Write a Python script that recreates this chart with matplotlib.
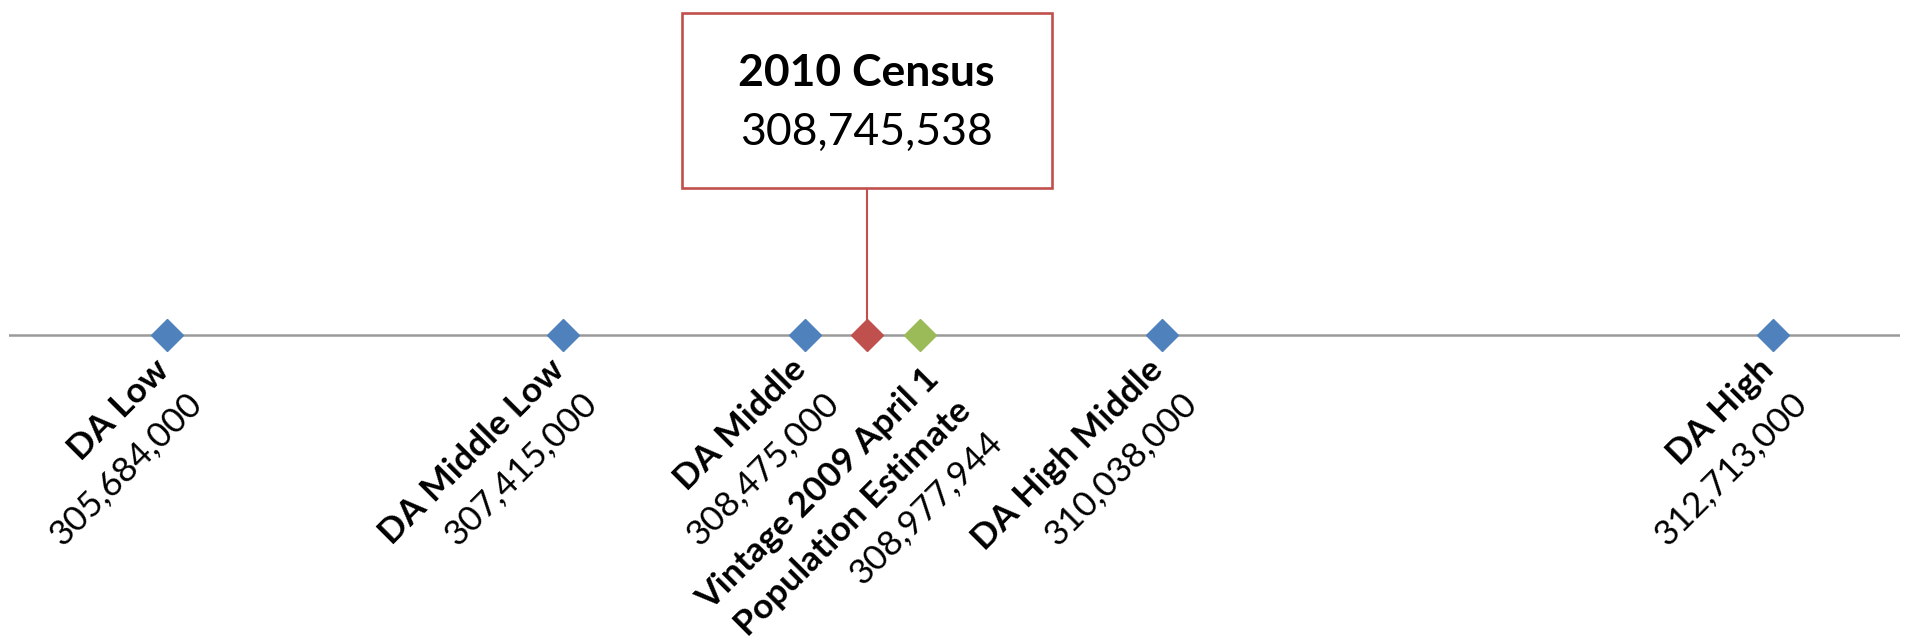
import numpy as np
import matplotlib.pyplot as plt
import matplotlib.transforms as mtransforms
from matplotlib.patches import Rectangle

plt.rcParams['font.family'] = ['Lato', 'DejaVu Sans']

# --- data ---
da_names = ['DA Low', 'DA Middle Low', 'DA Middle', 'DA High Middle', 'DA High']
da_values = [305684000, 307415000, 308475000, 310038000, 312713000]
estimate_name = ['Vintage 2009 April 1', 'Population Estimate']
estimate_value = 308977944
census_name = '2010 Census'
census_value = 308745538

BLUE, RED, GREEN = '#4F81BD', '#C0504D', '#9BBB59'
AXIS_GREY = '#9A9A9A'

fig = plt.figure(figsize=(19.10, 6.41), dpi=100)
ax = fig.add_axes([9 / 1910, 0, 1891 / 1910, 1])
ax.set_xlim(304.99e6, 313.27e6)
ax.set_ylim(-0.478, 0.522)
ax.axis('off')

# timeline
ax.axhline(0, color=AXIS_GREY, lw=1.8, zorder=1)

ax.plot(da_values, np.zeros(len(da_values)), 'D', ms=16, color=BLUE, ls='none', zorder=3)
ax.plot([census_value], [0], 'D', ms=16, color=RED, ls='none', zorder=3)
ax.plot([estimate_value], [0], 'D', ms=16, color=GREEN, ls='none', zorder=3)


def rotated_label(x, lines, dx=3, dy=-37, step=47):
    # lines: (text, weight); each next line shifted "down" in the rotated frame
    s = step / np.sqrt(2)
    for i, (txt, weight) in enumerate(lines):
        ax.annotate(txt, (x, 0), xytext=(dx + i * s, dy - i * s),
                    textcoords='offset pixels', rotation=45, rotation_mode='anchor',
                    ha='right', va='baseline', fontsize=25.5, fontweight=weight)


for name, val in zip(da_names, da_values):
    rotated_label(val, [(name, 'bold'), (f'{val:,}', 'normal')])

rotated_label(estimate_value, [(estimate_name[0], 'bold'), (estimate_name[1], 'bold'),
                               (f'{estimate_value:,}', 'normal')], dx=21, dy=-46, step=45)

# census callout box
cx, cy = ax.transData.transform((census_value, 0))
box_w, box_h, gap = 370, 175, 147
ident = mtransforms.IdentityTransform()
fig.add_artist(Rectangle((cx - box_w / 2, cy + gap), box_w, box_h, transform=ident,
                         facecolor='white', edgecolor=RED, lw=1.9, zorder=4))
ybot = ax.transData.inverted().transform((cx, cy + gap))[1]
ax.plot([census_value, census_value], [0, ybot], color=RED, lw=1.5, zorder=2)
fig.text(cx, cy + gap + 115, census_name, transform=ident, ha='center', va='center',
         fontsize=32, fontweight='bold', zorder=5)
fig.text(cx, cy + gap + 55, f'{census_value:,}', transform=ident, ha='center', va='center',
         fontsize=32, zorder=5)

fig.savefig('out.png', dpi=100)
